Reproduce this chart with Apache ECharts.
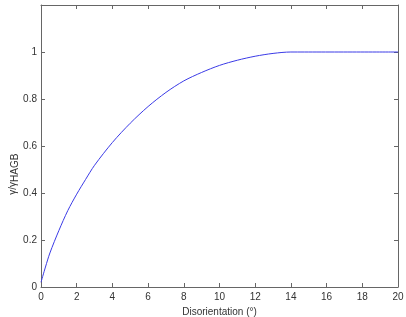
<!DOCTYPE html>
<html>
<head>
<meta charset="utf-8">
<script src="https://cdn.jsdelivr.net/npm/echarts@6/dist/echarts.min.js"></script>
<style>html,body{margin:0;padding:0;background:#fff}#c{width:406px;height:317px}</style>
</head>
<body>
<div id="c"></div>
<script>
const disorientation = [0, 0.25, 0.5, 1, 1.5, 2, 2.5, 3, 4, 5, 6, 7, 8, 9, 10, 11, 12, 13, 14, 20];
const energyRatio = [0.02, 0.085, 0.145, 0.24, 0.325, 0.395, 0.458, 0.518, 0.615, 0.697, 0.768, 0.828, 0.877, 0.913, 0.943, 0.965, 0.982, 0.994, 1.0, 1.0];
const xTicks = [0, 2, 4, 6, 8, 10, 12, 14, 16, 18, 20];
const yTicks = [0, 0.2, 0.4, 0.6, 0.8, 1];

const chart = echarts.init(document.getElementById('c'));
const font = 'Liberation Sans, Arial, sans-serif';
const axisCol = '#666';
const txtCol = '#333';
const base = {
  axisLine: {show: true, onZero: false, lineStyle: {color: axisCol, width: 1}},
  axisTick: {show: true, inside: true, length: 4, lineStyle: {color: axisCol}},
  splitLine: {show: false}
};
chart.setOption({
  animation: false,
  grid: {left: 41, right: 8, top: 5, bottom: 30, containLabel: false, outerBoundsMode: 'none'},
  xAxis: [
    Object.assign({}, base, {
      type: 'value', min: 0, max: 20, interval: 2, position: 'bottom',
      axisLabel: {show: true, color: txtCol, fontFamily: font, fontSize: 10, margin: 5,
        formatter: v => xTicks.includes(v) ? String(v) : ''},
      name: 'Disorientation (°)', nameLocation: 'middle', nameGap: 19,
      nameTextStyle: {color: txtCol, fontFamily: font, fontSize: 10}
    }),
    Object.assign({}, base, {
      type: 'value', min: 0, max: 20, interval: 2, position: 'top',
      axisLabel: {show: false}
    })
  ],
  yAxis: [
    Object.assign({}, base, {
      type: 'value', min: 0, max: 1.2, interval: 0.2, position: 'left',
      axisLabel: {show: true, color: txtCol, fontFamily: font, fontSize: 10, margin: 4,
        formatter: v => { const r = Math.round(v * 10) / 10; return yTicks.includes(r) ? String(r) : ''; }}
    }),
    Object.assign({}, base, {
      type: 'value', min: 0, max: 1.2, interval: 0.2, position: 'right',
      axisLabel: {show: false}
    })
  ],
  graphic: [{
    type: 'text',
    x: 13, y: 182,
    rotation: Math.PI / 2,
    style: {text: 'γ/γ', align: 'right', verticalAlign: 'middle', fill: txtCol,
      font: '10px Liberation Sans, Arial, sans-serif'}
  }, {
    type: 'text',
    x: 15.5, y: 182,
    rotation: Math.PI / 2,
    style: {text: 'HAGB', align: 'left', verticalAlign: 'middle', fill: txtCol,
      font: '10px Liberation Sans, Arial, sans-serif'}
  }],
  series: [{
    type: 'line',
    xAxisIndex: 0, yAxisIndex: 0,
    data: disorientation.map((d, i) => [d, energyRatio[i]]),
    smooth: 0.3,
    showSymbol: false,
    lineStyle: {color: '#3a3ae6', width: 1}
  }]
});
</script>
</body>
</html>
